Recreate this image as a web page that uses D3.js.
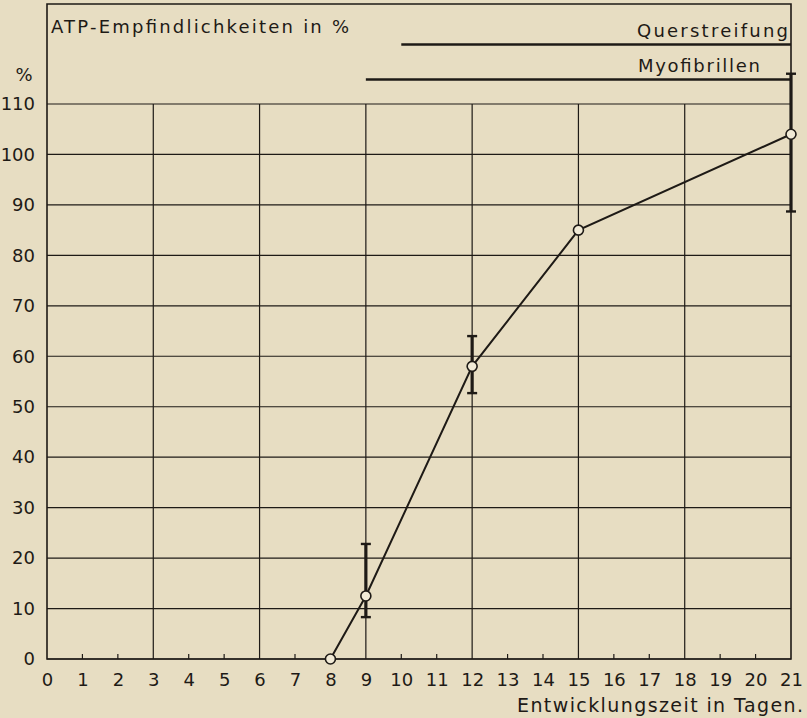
<!DOCTYPE html>
<html>
<head>
<meta charset="utf-8">
<script src="https://cdn.jsdelivr.net/npm/d3@7"></script>
<style>
  html, body { margin: 0; padding: 0; background: #e7ddc2; }
  svg { display: block; }
  text { font-family: "DejaVu Sans", sans-serif; fill: #1e1a16; }
</style>
</head>
<body>
<svg id="chart" width="807" height="718"></svg>
<script>
// Development day (x) and ATP sensitivity in percent (y)
const days = [8, 9, 12, 15, 21];
const sensitivity = [0, 12.5, 58, 85, 104];
// spread of the measurements, low and high
const errLow = [null, 8.3, 52.7, null, 88.7];
const errHigh = [null, 22.8, 64, null, 116];

const xTicks = d3.range(0, 22);
const yTicks = d3.range(0, 120, 10);

// Stage bars above the grid: label, first day, last day
const stages = [
  { label: "Querstreifung", from: 10, to: 21 },
  { label: "Myofibrillen", from: 9, to: 21 }
];

const svg = d3.select("#chart");
const ink = "#1e1a16";

const x = d3.scaleLinear().domain([0, 21]).range([47, 791]);
const y = d3.scaleLinear().domain([0, 110]).range([659, 104]);

const frameTop = 4;

// horizontal grid
svg.append("g").selectAll("line").data(yTicks).join("line")
  .attr("x1", x(0)).attr("x2", x(21))
  .attr("y1", d => y(d)).attr("y2", d => y(d))
  .attr("stroke", ink).attr("stroke-width", 1.2);

// vertical grid every third day
svg.append("g").selectAll("line").data(xTicks.filter(d => d % 3 === 0 && d > 0 && d < 21)).join("line")
  .attr("x1", d => x(d)).attr("x2", d => x(d))
  .attr("y1", y(110)).attr("y2", y(0))
  .attr("stroke", ink).attr("stroke-width", 1.2);

// small day ticks along the base line
svg.append("g").selectAll("line").data(xTicks.filter(d => d % 3 !== 0)).join("line")
  .attr("x1", d => x(d)).attr("x2", d => x(d))
  .attr("y1", y(0)).attr("y2", y(0) - 5)
  .attr("stroke", ink).attr("stroke-width", 1.2);

// outer frame
svg.append("path")
  .attr("d", `M${x(0)},${y(0)} V${frameTop} H${x(21)} V${y(0)} Z`)
  .attr("fill", "none").attr("stroke", ink).attr("stroke-width", 1.6);

// axes labels
const xAxis = d3.axisBottom(x).tickValues(xTicks).tickSize(0).tickPadding(14).tickFormat(d3.format("d"));
const gx = svg.append("g").attr("transform", `translate(0,${y(0)})`).call(xAxis);
gx.select(".domain").remove();
gx.selectAll("text").attr("font-size", 18).style("fill", ink);

const yAxis = d3.axisLeft(y).tickValues(yTicks).tickSize(0).tickPadding(12).tickFormat(d3.format("d"));
const gy = svg.append("g").attr("transform", `translate(${x(0)},0)`).call(yAxis);
gy.select(".domain").remove();
gy.selectAll("text").attr("font-size", 18).style("fill", ink);

svg.append("text").attr("x", 24).attr("y", 81).attr("text-anchor", "middle")
  .attr("font-size", 18).text("%");

svg.append("text").attr("x", 51).attr("y", 33).attr("font-size", 18)
  .attr("textLength", 298).attr("lengthAdjust", "spacing")
  .text("ATP-Empfindlichkeiten in %");

svg.append("text").attr("x", 517).attr("y", 712)
  .attr("font-size", 19).attr("textLength", 286).attr("lengthAdjust", "spacing")
  .text("Entwicklungszeit in Tagen.");

// stage bars
const stageY = [44.5, 79.5];
const stageText = [{ x0: 637, w: 151 }, { x0: 638, w: 122 }];
stages.forEach((s, i) => {
  svg.append("line")
    .attr("x1", x(s.from)).attr("x2", x(s.to))
    .attr("y1", stageY[i]).attr("y2", stageY[i])
    .attr("stroke", ink).attr("stroke-width", 2.6);
  svg.append("text")
    .attr("x", stageText[i].x0).attr("y", stageY[i] - 8)
    .attr("font-size", 18).attr("textLength", stageText[i].w).attr("lengthAdjust", "spacing")
    .text(s.label);
});

// error bars
const errData = days.map((d, i) => ({ d, lo: errLow[i], hi: errHigh[i] })).filter(e => e.lo !== null);
const eg = svg.append("g").attr("stroke", ink);
errData.forEach(e => {
  eg.append("line").attr("x1", x(e.d)).attr("x2", x(e.d))
    .attr("y1", y(e.lo)).attr("y2", y(e.hi)).attr("stroke-width", 3.2);
  [e.lo, e.hi].forEach(v => {
    eg.append("line").attr("x1", x(e.d) - 5).attr("x2", x(e.d) + 5)
      .attr("y1", y(v)).attr("y2", y(v)).attr("stroke-width", 2.4);
  });
});

// curve
const pts = days.map((d, i) => [d, sensitivity[i]]);
svg.append("path")
  .attr("d", d3.line().x(p => x(p[0])).y(p => y(p[1]))(pts))
  .attr("fill", "none").attr("stroke", ink).attr("stroke-width", 2);

svg.append("g").selectAll("circle").data(pts).join("circle")
  .attr("cx", p => x(p[0])).attr("cy", p => y(p[1])).attr("r", 5)
  .attr("fill", "#f1ead6").attr("stroke", ink).attr("stroke-width", 1.6);
</script>
</body>
</html>
